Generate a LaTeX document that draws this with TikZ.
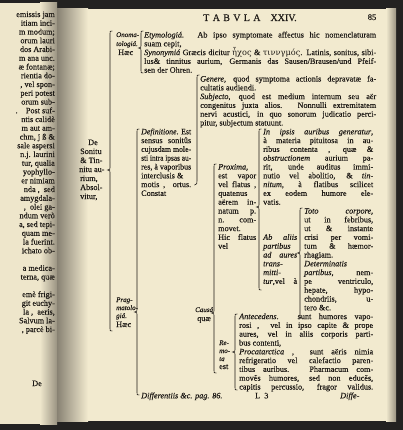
\documentclass[tikz,border=0pt]{standalone}
\usepackage{fontspec}
\usepackage{graphicx}
\setmainfont{Liberation Serif}[FakeBold=0.25, ItalicFeatures={FakeBold=0.25}]
\newfontfamily\gk{DejaVu Serif}
\definecolor{ink}{HTML}{1E1A16}
\definecolor{paper}{HTML}{F2EACF}
\definecolor{paperL}{HTML}{EEE6CB}
\definecolor{shade}{HTML}{9A9382}
\definecolor{darkband}{HTML}{232221}
\newlength\jlw
\newcommand\jl[2]{\settowidth\jlw{#2}\ifdim\jlw>#1pt\relax\resizebox{#1pt}{\height}{#2}\else\makebox[#1pt][s]{#2}\fi}
\newcommand\bodyf{\fontsize{8.2}{8.8}\selectfont}
\newcommand\smf{\fontsize{7}{7.5}\selectfont}
\tikzset{
  txt/.style={inner sep=0pt, anchor=base west, font=\bodyf, text=ink},
  txtr/.style={inner sep=0pt, anchor=base east, font=\bodyf, text=ink},
  smit/.style={inner sep=0pt, anchor=base west, font=\smf\itshape, text=ink},
  brc/.style={draw=ink, line width=0.6pt, line cap=round}
}
\newcommand\Ln[5]{\node[txt] (#1) at (#2,{37.5+8.8*#3}) {\jl{#4}{#5}};}
\newcommand\Lf[4]{\node[txt] (#1) at (#2,{37.5+8.8*#3}) {#4};}
\newcommand\Lp[3]{\node[txtr] (#1) at (55,{17+8.75*#2}) {#3};}
\newcommand\brc[4]{\draw[brc] ({#1+2.2},#2) .. controls (#1,#2) .. (#1,{#2+2.5}) -- (#1,{#3-2.5}) .. controls (#1,{#3-0.6}) .. ({#1-2.4},#3) .. controls (#1,{#3+0.6}) .. (#1,{#3+2.5}) -- (#1,{#4-2.5}) .. controls (#1,#4) .. ({#1+2.2},#4);}
\begin{document}
\begin{tikzpicture}[x=1pt,y=-1pt]
\useasboundingbox (0,0) rectangle (403,430);
% background
\fill[darkband] (0,0) rectangle (403,430);
\fill[paperL] (0,3) rectangle (57,424);
\fill[paper] (57,9) rectangle (396,421);
\shade[left color=paperL, right color=shade] (40,3) rectangle (57,424);
\shade[left color=shade!85!darkband, right color=paper] (57,9) rectangle (88,421);
\shade[left color=paper, right color=shade] (386,9) rectangle (396,421);
% left page fragments
\Lp{lp0}{0}{emissis jam}
\Lp{lp1}{1}{itiam inci-}
\Lp{lp2}{2}{m modum;}
\Lp{lp3}{3}{orum lauri}
\Lp{lp4}{4}{dos Arabi-}
\Lp{lp5}{5}{m ana unc.}
\Lp{lp6}{6}{æ fontanæ;}
\Lp{lp7}{7}{rientia do-}
\Lp{lp8}{8}{, vel spon-}
\Lp{lp9}{9}{peri potest}
\Lp{lp10}{10}{orum sub-}
\Lp{lp11}{11}{.\quad Post suf-}
\Lp{lp12}{12}{ntis calidè}
\Lp{lp13}{13}{m aut am-}
\Lp{lp14}{14}{chm, j ß \&}
\Lp{lp15}{15}{sale aspersi}
\Lp{lp16}{16}{n.j. laurini}
\Lp{lp17}{17}{tur, qualia}
\Lp{lp18}{18}{yophyllo-}
\Lp{lp19}{19}{er nimiam}
\Lp{lp20}{20}{nda ,\enspace sed}
\Lp{lp21}{21}{amygdala-}
\Lp{lp22}{22}{,\enspace olei ga-}
\Lp{lp23}{23}{ndum verò}
\Lp{lp24}{24}{a, sed tepi-}
\Lp{lp25}{25}{quam me-}
\Lp{lp26}{26}{la fuerint.}
\Lp{lp27}{27}{ichato ob-}
\Lp{lp29}{29}{a medica-}
\Lp{lp30}{30}{terna, quæ}
\Lp{lp32}{32}{emè frigi-}
\Lp{lp33}{33}{git euchy-}
\Lp{lp34}{34}{la ,\enspace aeris,}
\Lp{lp35}{35}{Salvum la-}
\Lp{lp36}{36}{, parcè bi-}
\node[txtr] (lpde) at (42,386) {De};
% title
\node[inner sep=0pt, anchor=base, font=\fontsize{10}{11}\selectfont, text=ink] (title) at (250,21) {T\,\,A\,\,B\,\,V\,\,L\,\,A\quad XXIV.};
\node[inner sep=0pt, anchor=base, font=\fontsize{8.5}{10}\selectfont, text=ink] (pg) at (372,20) {85};
% De Sonitu
\node[inner sep=0pt, anchor=base, font=\bodyf, text=ink] (s1) at (93,145) {De};
\node[txt] (s2) at (80,154) {Sonitu};
\node[txt] (s3) at (80,163) {\& Tin-};
\node[txt] (s4) at (79,172) {nitu au-};
\node[txt] (s5) at (80,181) {rium,};
\node[txt] (s6) at (80,190) {Absol-};
\node[txt] (s7) at (80,199) {vitur,};
% Onomatologia
\node[smit] (o1) at (116,37) {Onoma-};
\node[smit] (o2) at (116,46) {tologiá.};
\node[txt] (o3) at (118,55) {Hæc};
% Etymologia / Synonymia
\Ln{e0}{144}{0}{232}{\textit{Etymologiá.} Ab ipso symptomate affectus hic nomenclaturam}
\Lf{e1}{144}{1}{suam cepit,}
\Ln{e2}{144}{2}{232}{\textit{Synonymiá} Græcis dicitur {\gk ἦχος} \& {\gk τιννγμός}. Latinis, sonitus, sibi-}
\Ln{e3}{144}{3}{232}{lus\& tinnitus aurium, Germanis das Sausen/Brausen/und Pfeif-}
\Lf{e4}{144}{4}{sen der Ohren.}
% Genere / Subjecto
\Ln{g5}{200}{5}{176}{\textit{Genere}, quod symptoma actionis depravatæ fa-}
\Lf{g6}{200}{6}{cultatis audiendi.}
\Ln{g7}{200}{7}{176}{\textit{Subjecto}, quod est medium internum seu aër}
\Ln{g8}{200}{8}{176}{congenitus juxta alios. Nonnulli extremitatem}
\Ln{g9}{200}{9}{176}{nervi acustici, in quo sonorum judicatio perci-}
\Lf{g10}{200}{10}{pitur, subjectum statuunt.}
% Definitione
\Ln{d11}{141}{11}{50}{\textit{Definitione}. Est}
\Ln{d12}{141}{12}{50}{sensus sonitûs}
\Ln{d13}{141}{13}{50}{cujusdam mole-}
\Ln{d14}{141}{14}{50}{sti intra ipsas au-}
\Ln{d15}{141}{15}{50}{res, à vaporibus}
\Lf{d16}{141}{16}{interclusis \&}
\Ln{d17}{141}{17}{50}{motis ,\ \ ortus.}
\Lf{d18}{141}{18}{Constat}
% In ipsis
\Ln{i11}{263}{11}{110}{\textit{In ipsis auribus generatur},}
\Ln{i12}{263}{12}{110}{à materia pituitosa in au-}
\Ln{i13}{263}{13}{110}{ribus contenta , quæ \&}
\Ln{i14}{263}{14}{110}{\textit{obstructionem} aurium pa-}
\Ln{i15}{263}{15}{110}{rit, unde auditus immi-}
\Ln{i16}{263}{16}{110}{nutio vel abolitio, \& \textit{tin-}}
\Ln{i17}{263}{17}{110}{\textit{nitum}, à flatibus scilicet}
\Ln{i18}{263}{18}{110}{ex eodem humore ele-}
\Lf{i19}{263}{19}{vatis.}
% Proxima
\Lf{p15}{218}{15}{\textit{Proxima},}
\Ln{p16}{218}{16}{38}{est vapor}
\Ln{p17}{218}{17}{38}{vel flatus ,}
\Lf{p18}{218}{18}{quatenus}
\Ln{p19}{218}{19}{38}{aërem in-}
\Ln{p20}{218}{20}{38}{natum p.}
\Ln{p21}{218}{21}{38}{n. com-}
\Lf{p22}{218}{22}{movet.}
\Ln{p23}{218}{23}{38}{Hic flatus}
\Lf{p24}{218}{24}{vel}
% Ab aliis
\Ln{a23}{263}{23}{34}{\textit{Ab aliis}}
\Lf{a24}{263}{24}{\textit{partibus}}
\Ln{a25}{263}{25}{34}{\textit{ad aures}}
\Lf{a26}{263}{26}{\textit{trans-}}
\Lf{a27}{263}{27}{\textit{mitti-}}
\Ln{a28}{263}{28}{34}{\textit{tur},vel à}
% Toto corpore
\Ln{t20}{304}{20}{69}{\textit{Toto corpore},}
\Ln{t21}{304}{21}{69}{ut in febribus,}
\Ln{t22}{304}{22}{69}{ut \& instante}
\Ln{t23}{304}{23}{69}{crisi per vomi-}
\Ln{t24}{304}{24}{69}{tum \& hæmor-}
\Lf{t25}{304}{25}{rhagiam.}
\Lf{t26}{304}{26}{\textit{Determinatis}}
\Ln{t27}{304}{27}{69}{\textit{partibus}, nem-}
\Ln{t28}{304}{28}{69}{pe ventriculo,}
\Ln{t29}{304}{29}{69}{hepate, hypo-}
\Ln{t30}{304}{30}{69}{chondriis, u-}
\Lf{t31}{304}{31}{tero \&c.}
% Causa
\node[smit] (ca1) at (195,312) {Causá};
\node[txt] (ca2) at (197,321) {quæ};
% Remota
\node[smit] (rm1) at (219,345) {Re-};
\node[smit] (rm2) at (219,353) {mo-};
\node[smit] (rm3) at (219,361) {ta};
\node[txt] (rm4) at (219,369) {est};
% Antecedens / Procatarctica
\Ln{r32}{239}{32}{134}{\textit{Antecedens}. sunt humores vapo-}
\Ln{r33}{239}{33}{134}{rosi ,\ \ vel in ipso capite \& prope}
\Ln{r34}{239}{34}{134}{aures, vel in aliis corporis parti-}
\Lf{r35}{239}{35}{bus contenti,}
\Ln{r36}{239}{36}{134}{\textit{Procatarctica} ,\ \ sunt aëris nimia}
\Ln{r37}{239}{37}{134}{refrigeratio vel calefactio paren-}
\Ln{r38}{239}{38}{134}{tibus auribus. Pharmacum com-}
\Ln{r39}{239}{39}{134}{movẽs humores, sed non educẽs,}
\Ln{r40}{239}{40}{134}{capitis percussio, fragor validus.}
% Pragmatologia
\node[smit] (pr1) at (116,302) {Prag-};
\node[smit] (pr2) at (116,310) {matolo-};
\node[smit] (pr3) at (116,318) {giá.};
\node[txt] (pr4) at (116,327) {Hæc};
% bottom line
\Lf{f41}{141}{41}{\textit{Differentiis \&c. pag. 86.}}
\Lf{l41}{255}{41}{L\enspace 3}
\Lf{c41}{340}{41}{\textit{Diffe-}}
% braces
\brc{110}{31}{170}{331}
\brc{141}{31}{48}{73}
\brc{137}{129}{312}{395}
\brc{214}{164}{313}{373}
\brc{259}{129}{207}{290}
\brc{300}{208}{253}{318}
\brc{235}{314}{352}{390}
\draw[brc] (199.2,75) .. controls (197,75) .. (197,77.5) -- (197,181) .. controls (197,184) .. (194.5,185);
\end{tikzpicture}
\end{document}
